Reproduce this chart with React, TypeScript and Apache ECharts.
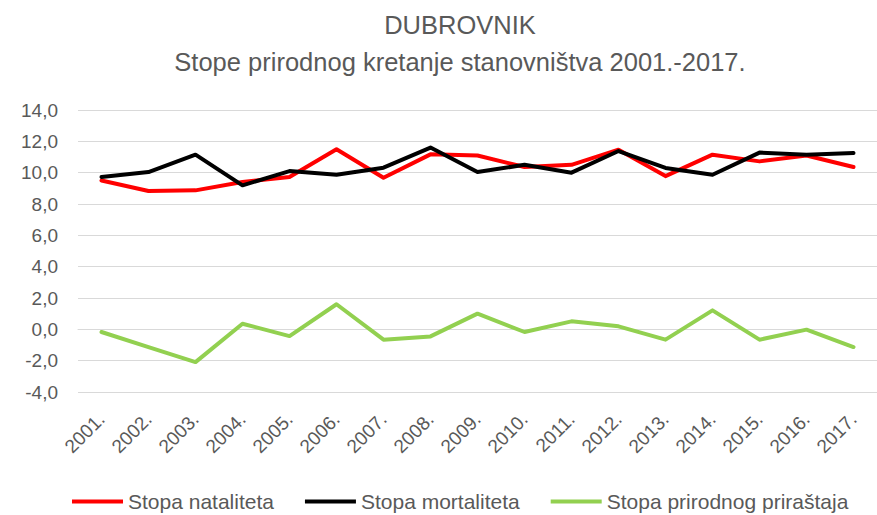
import React, { useEffect, useRef } from "react";
import * as echarts from "echarts";

const years = ["2001.", "2002.", "2003.", "2004.", "2005.", "2006.", "2007.", "2008.", "2009.", "2010.", "2011.", "2012.", "2013.", "2014.", "2015.", "2016.", "2017."];
const natalitet = [9.5, 8.83, 8.87, 9.4, 9.72, 11.49, 9.68, 11.17, 11.1, 10.36, 10.5, 11.47, 9.78, 11.15, 10.72, 11.1, 10.36];
const mortalitet = [9.72, 10.04, 11.15, 9.19, 10.1, 9.87, 10.32, 11.6, 10.04, 10.5, 10.0, 11.38, 10.3, 9.87, 11.28, 11.15, 11.26];
const prirastaj = [-0.17, -1.13, -2.09, 0.36, -0.43, 1.6, -0.66, -0.45, 1.0, -0.17, 0.51, 0.19, -0.66, 1.21, -0.66, -0.02, -1.13];
const seriesNames = ["Stopa nataliteta", "Stopa mortaliteta", "Stopa prirodnog priraštaja"];
const titleLines = ["DUBROVNIK", "Stope prirodnog kretanje stanovništva 2001.-2017."];

const FONT = "Liberation Sans";
const GREY = "#595959";

export default function App() {
  const ref = useRef<HTMLDivElement>(null);
  useEffect(() => {
    const chart = echarts.init(ref.current!, null, { renderer: "svg" });
    const mk = (name: string, data: number[], color: string) => ({
      name,
      type: "line",
      data,
      symbol: "none",
      lineStyle: { color, width: 4, join: "round", cap: "round" },
      itemStyle: { color },
    });
    chart.setOption({
      animation: false,
      backgroundColor: "#ffffff",
      title: {
        text: titleLines.join("\n"),
        left: 455,
        textAlign: "center",
        top: 1,
        textStyle: { fontFamily: FONT, fontSize: 25.5, fontWeight: "normal", color: GREY, lineHeight: 37 },
      },
      legend: {
        left: 67,
        top: 486,
        itemWidth: 51,
        itemHeight: 4,
        itemGap: 31,
        icon: "rect",
        textStyle: { fontFamily: FONT, fontSize: 21, color: GREY },
        data: seriesNames,
      },
      grid: { left: 78, right: -4, top: 110, bottom: 123, containLabel: false },
      xAxis: {
        type: "category",
        data: years,
        boundaryGap: true,
        axisLine: { show: true, lineStyle: { color: "#d9d9d9", width: 1 } },
        axisTick: { show: false },
        axisLabel: { rotate: 45, margin: 24, fontFamily: FONT, fontSize: 19, color: GREY, interval: 0 },
      },
      yAxis: {
        type: "value",
        min: -4,
        max: 14,
        interval: 2,
        axisLine: { show: false },
        axisTick: { show: false },
        splitLine: { lineStyle: { color: "#d9d9d9", width: 1 } },
        axisLabel: {
          margin: 20,
          fontFamily: FONT,
          fontSize: 19,
          color: GREY,
          formatter: (v: number) => v.toFixed(1).replace(".", ","),
        },
      },
      series: [
        mk(seriesNames[0], natalitet, "#ff0000"),
        mk(seriesNames[1], mortalitet, "#000000"),
        mk(seriesNames[2], prirastaj, "#92d050"),
      ],
    });
    return () => chart.dispose();
  }, []);
  return <div ref={ref} style={{ position: "fixed", left: 0, top: 0, width: 877, height: 515 }} />;
}
